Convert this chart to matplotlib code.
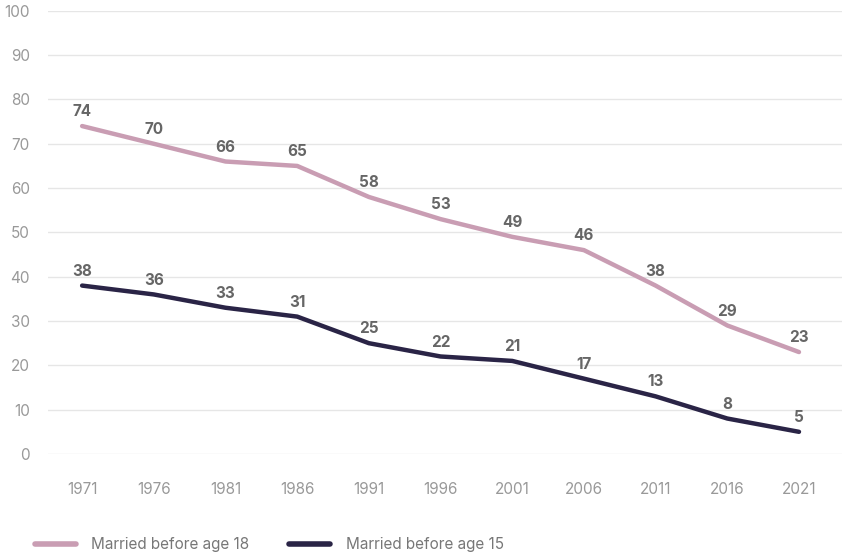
import matplotlib.pyplot as plt

plt.rcParams['font.family'] = ['Inter', 'DejaVu Sans']

years = ["1971", "1976", "1981", "1986", "1991", "1996", "2001", "2006", "2011", "2016", "2021"]
before_18 = [74, 70, 66, 65, 58, 53, 49, 46, 38, 29, 23]
before_15 = [38, 36, 33, 31, 25, 22, 21, 17, 13, 8, 5]

pink = "#c99db3"
navy = "#2a2446"

fig = plt.figure(figsize=(8.42, 5.56), dpi=100)
ax = fig.add_axes([0.057, 0.1835, 0.943, 0.797])

x = list(range(len(years)))
ax.plot(x, before_18, color=pink, lw=3.2, solid_capstyle='round', solid_joinstyle='round',
        label="Married before age 18")
ax.plot(x, before_15, color=navy, lw=3.2, solid_capstyle='round', solid_joinstyle='round',
        label="Married before age 15")

for xi, v in zip(x, before_18):
    ax.annotate(str(v), (xi, v), xytext=(0, 5), textcoords='offset points',
                ha='center', va='bottom', fontsize=11, fontweight='bold', color='#666666')
for xi, v in zip(x, before_15):
    ax.annotate(str(v), (xi, v), xytext=(0, 5), textcoords='offset points',
                ha='center', va='bottom', fontsize=11, fontweight='bold', color='#666666')

ax.set_xlim(-0.476, 10.6)
ax.set_ylim(0, 100)
ax.set_yticks(range(0, 101, 10))
ax.set_xticks(x)
ax.set_xticklabels(years)
ax.grid(axis='y', color='#e6e6e6', lw=1)
ax.set_axisbelow(True)
for s in ax.spines.values():
    s.set_visible(False)
ax.tick_params(length=0, labelsize=11, labelcolor='#999999')
ax.tick_params(axis='x', pad=20)
ax.tick_params(axis='y', pad=13)

leg = fig.legend(loc='lower left', bbox_to_anchor=(0.025, -0.018), ncol=2, frameon=False,
                 fontsize=11, handlelength=2.7, columnspacing=2.6, handletextpad=1.0)
for t in leg.get_texts():
    t.set_color('#777777')
for h in leg.get_lines():
    h.set_linewidth(4)

fig.savefig("out.png", dpi=100)
